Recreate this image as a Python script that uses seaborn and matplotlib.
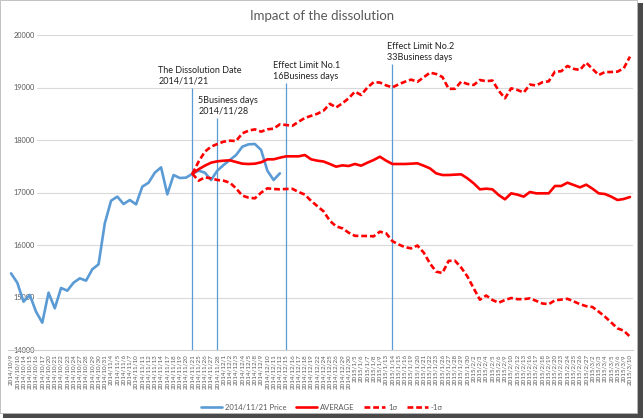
import matplotlib
matplotlib.use("Agg")
import matplotlib.pyplot as plt
from matplotlib.patches import Rectangle
import numpy as np
import pandas as pd
import seaborn as sns

# ---------------- data ----------------
dates = [
    "2014/10/9", "2014/10/10", "2014/10/14", "2014/10/15", "2014/10/16", "2014/10/17",
    "2014/10/20", "2014/10/21", "2014/10/22", "2014/10/23", "2014/10/24",
    "2014/10/27", "2014/10/28", "2014/10/29", "2014/10/30", "2014/10/31",
    "2014/11/4", "2014/11/5", "2014/11/6", "2014/11/7",
    "2014/11/10", "2014/11/11", "2014/11/12", "2014/11/13", "2014/11/14",
    "2014/11/17", "2014/11/18", "2014/11/19", "2014/11/20", "2014/11/21",
    "2014/11/25", "2014/11/26", "2014/11/27", "2014/11/28",
    "2014/12/1", "2014/12/2", "2014/12/3", "2014/12/4", "2014/12/5",
    "2014/12/8", "2014/12/9", "2014/12/10", "2014/12/11", "2014/12/12",
    "2014/12/15", "2014/12/16", "2014/12/17", "2014/12/18", "2014/12/19",
    "2014/12/22", "2014/12/24", "2014/12/25", "2014/12/26",
    "2014/12/29", "2014/12/30",
    "2015/1/5", "2015/1/6", "2015/1/7", "2015/1/8", "2015/1/9",
    "2015/1/13", "2015/1/14", "2015/1/15", "2015/1/16",
    "2015/1/19", "2015/1/20", "2015/1/21", "2015/1/22", "2015/1/23",
    "2015/1/26", "2015/1/27", "2015/1/28", "2015/1/29", "2015/1/30",
    "2015/2/2", "2015/2/3", "2015/2/4", "2015/2/5", "2015/2/6",
    "2015/2/9", "2015/2/10", "2015/2/12", "2015/2/13",
    "2015/2/16", "2015/2/17", "2015/2/18", "2015/2/19", "2015/2/20",
    "2015/2/23", "2015/2/24", "2015/2/25", "2015/2/26", "2015/2/27",
    "2015/3/2", "2015/3/3", "2015/3/4", "2015/3/5", "2015/3/6",
    "2015/3/9", "2015/3/10",
]

price = [15460, 15282, 14920, 15048, 14730, 14520, 15092, 14794, 15181, 15130,
         15282, 15365, 15321, 15537, 15632, 16413, 16844, 16921, 16781, 16857,
         16774, 17111, 17187, 17378, 17479, 16965, 17333, 17276, 17283, 17357,
         17416, 17378, 17238, 17416, 17524, 17619, 17714, 17873, 17918, 17924,
         17810, 17416, 17238, 17365]

average = [17357, 17442, 17511, 17568, 17594, 17606, 17613, 17581, 17549, 17543,
           17549, 17575, 17632, 17632, 17663, 17689, 17689, 17689, 17714, 17632,
           17606, 17590, 17543, 17492, 17517, 17505, 17543, 17511, 17568, 17619,
           17682, 17606, 17543, 17543, 17543, 17549, 17556, 17511, 17460, 17365,
           17333, 17333, 17340, 17346, 17270, 17175, 17060, 17073, 17060, 16952,
           16870, 16984, 16959, 16921, 17010, 16984, 16984, 16984, 17124, 17124,
           17187, 17143, 17098, 17149, 17073, 16984, 16971, 16921, 16857, 16876,
           16914]

plus_sigma = [17357, 17587, 17778, 17873, 17924, 17968, 17987, 17981, 18127, 18178,
              18203, 18159, 18203, 18216, 18299, 18286, 18270, 18349, 18420, 18460,
              18500, 18560, 18690, 18620, 18699, 18794, 18921, 18857, 19000, 19100,
              19095, 19040, 19003, 19060, 19110, 19150, 19108, 19194, 19283, 19257,
              19200, 18975, 18975, 19111, 19067, 19048, 19143, 19120, 19133, 18940,
              18794, 18984, 18953, 18905, 19055, 19040, 19100, 19118, 19302, 19310,
              19410, 19355, 19334, 19473, 19355, 19238, 19295, 19295, 19302, 19365,
              19588]

minus_sigma = [17357, 17225, 17289, 17270, 17238, 17225, 17187, 17079, 16940, 16902,
               16889, 16997, 17079, 17067, 17060, 17067, 17070, 17010, 16960, 16840,
               16740, 16640, 16460, 16355, 16318, 16235, 16175, 16172, 16172, 16165,
               16254, 16223, 16073, 16010, 15959, 15936, 15990, 15857, 15650, 15492,
               15467, 15698, 15701, 15570, 15400, 15175, 14958, 15038, 14952, 14901,
               14952, 14990, 14968, 14968, 14984, 14936, 14886, 14873, 14946, 14960,
               14975, 14926, 14873, 14835, 14819, 14730, 14635, 14524, 14413, 14368,
               14254]

series_labels = ["2014/11/21 Price", "AVERAGE", "1σ", "-1σ"]
event_dates = ["2014/11/21", "2014/11/28", "2014/12/15", "2015/1/14"]
event_texts = ["The Dissolution Date\n2014/11/21", "5Business days\n2014/11/28",
               "Effect Limit No.1\n16Business days", "Effect Limit No.2\n33Business days"]
event_tops = [18990, 18419, 19086, 19448]
event_dx = [-24.5, -13.7, -9.4, -3.6]
y_ticks = [14000, 15000, 16000, 17000, 18000, 19000, 20000]
title = "Impact of the dissolution"

# ---------------- style ----------------
sns.set_theme(style="white")
plt.rcParams["font.family"] = ["Lato", "DejaVu Sans"]

W, H = 644, 419
fig = plt.figure(figsize=(W / 100, H / 100), dpi=100)
fig.patch.set_facecolor("white")

def fx(px):
    return px / W

def fy(py):
    return 1 - py / H

# frame with drop shadow
fig.add_artist(Rectangle((fx(3), fy(418)), fx(640), (415) / H, transform=fig.transFigure,
                         facecolor="#4a4a4a", edgecolor="none", zorder=-20))
fig.add_artist(Rectangle((fx(0), fy(413)), fx(637), 413 / H, transform=fig.transFigure,
                         facecolor="white", edgecolor="#b8b8b8", linewidth=0.6, zorder=-19))

ax_left, ax_right, ax_top, ax_bottom = 7.9, 633.1, 35, 350
ax = fig.add_axes([fx(ax_left), fy(ax_bottom), fx(ax_right - ax_left), (ax_bottom - ax_top) / H])
ax.patch.set_alpha(0)

n = len(dates)
start = dates.index(event_dates[0])
df_price = pd.DataFrame({"idx": np.arange(len(price)), "value": price})
df_stat = pd.DataFrame({"idx": np.arange(start, start + len(average)),
                        "avg": average, "up": plus_sigma, "dn": minus_sigma})

blue = "#5B9BD5"
red = "#FF0000"

# gridlines (start right of tick labels)
for yv in y_ticks[1:]:
    ax.axhline(yv, xmin=(37 - ax_left) / (ax_right - ax_left), xmax=1,
               color="#d9d9d9", lw=0.8, zorder=0.5)

# vertical event lines
for d, top in zip(event_dates, event_tops):
    xi = dates.index(d)
    ax.vlines(xi, 14000, top, color=blue, lw=0.9, zorder=1.8)

sns.lineplot(data=df_price, x="idx", y="value", ax=ax, color=blue, lw=1.9,
             label=series_labels[0], zorder=3)
sns.lineplot(data=df_stat, x="idx", y="avg", ax=ax, color=red, lw=1.9,
             label=series_labels[1], zorder=3)
sns.lineplot(data=df_stat, x="idx", y="up", ax=ax, color=red, lw=1.9,
             label=series_labels[2], zorder=3)
ax.lines[-1].set_dashes((2.2, 1.1))
sns.lineplot(data=df_stat, x="idx", y="dn", ax=ax, color=red, lw=1.9,
             label=series_labels[3], zorder=3)
ax.lines[-1].set_dashes((2.2, 1.1))

ax.set_xlim(-0.5, n - 0.5)
ax.set_ylim(14000, 20000)
ax.set_xlabel("")
ax.set_ylabel("")

ax.set_xticks(range(n))
ax.set_xticklabels(dates, rotation=90, fontsize=4.5, color="#595959")
ax.set_yticks(y_ticks)
ax.set_yticklabels([str(v) for v in y_ticks], fontsize=5.3, color="#595959")
ax.tick_params(axis="x", length=0, pad=3)
ax.tick_params(axis="y", length=0, pad=-(35 - ax_left) * 0.72)

for s in ["top", "right", "left"]:
    ax.spines[s].set_visible(False)
ax.spines["bottom"].set_color("#d0d0d0")
ax.spines["bottom"].set_linewidth(0.8)

# annotations
for d, txt, top, dx in zip(event_dates, event_texts, event_tops, event_dx):
    xi = dates.index(d)
    ax.annotate(txt, xy=(xi, top), xytext=(dx, 1.5), textcoords="offset points",
                ha="left", va="bottom", fontsize=6.5, color="#222222", linespacing=1.25)

fig.text(fx(322), fy(16), title, ha="center", va="center", fontsize=9.5, color="#595959")

leg = ax.legend(loc="center", bbox_to_anchor=(fx(322), fy(407)), bbox_transform=fig.transFigure,
                ncol=4, frameon=False, fontsize=5.5, handlelength=2.7, handletextpad=0.4,
                columnspacing=1.3, labelcolor="#595959")

fig.savefig("out.png", dpi=100)
